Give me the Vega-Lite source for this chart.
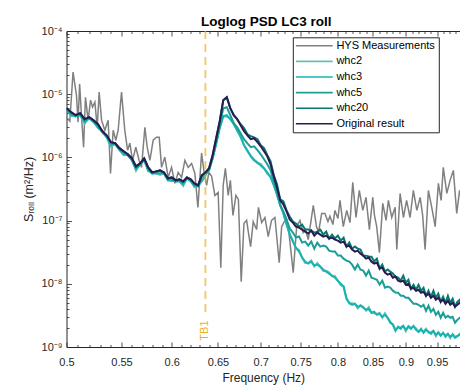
{
  "$schema": "https://vega.github.io/schema/vega-lite/v6.json",
  "width": 393.5,
  "height": 316,
  "autosize": {"type": "none"},
  "padding": {"left": 66.5, "top": 31, "right": 0, "bottom": 38},
  "background": "white",
  "config": {"view": {"stroke": null}, "font": "Liberation Sans"},
  "title": {"text": "Loglog PSD LC3 roll", "fontSize": 13.5, "fontWeight": "bold", "color": "#000000", "font": "Liberation Sans", "frame": "group", "anchor": "middle", "offset": 7, "baseline": "alphabetic", "dx": 3, "dy": 21},
  "datasets": {
    "hys": [
      {"f":0.5,"s":"HYS Measurements","v":4.33e-6},{"f":0.5029,"s":"HYS Measurements","v":3.74e-6},{"f":0.5057,"s":"HYS Measurements","v":2.24e-5},{"f":0.5087,"s":"HYS Measurements","v":9.64e-6},{"f":0.5101,"s":"HYS Measurements","v":3.61e-6},{"f":0.5115,"s":"HYS Measurements","v":1.45e-5},{"f":0.513,"s":"HYS Measurements","v":5.01e-6},{"f":0.515,"s":"HYS Measurements","v":1.45e-6},{"f":0.5167,"s":"HYS Measurements","v":8.96e-6},{"f":0.5191,"s":"HYS Measurements","v":3.88e-6},{"f":0.5213,"s":"HYS Measurements","v":8.04e-6},{"f":0.5231,"s":"HYS Measurements","v":6.23e-6},{"f":0.5252,"s":"HYS Measurements","v":7.47e-6},{"f":0.5273,"s":"HYS Measurements","v":3.0e-6},{"f":0.5291,"s":"HYS Measurements","v":1.08e-5},{"f":0.5313,"s":"HYS Measurements","v":3.88e-6},{"f":0.5343,"s":"HYS Measurements","v":2.69e-6},{"f":0.5374,"s":"HYS Measurements","v":3.88e-6},{"f":0.5396,"s":"HYS Measurements","v":5.58e-7},{"f":0.5421,"s":"HYS Measurements","v":2.69e-6},{"f":0.5446,"s":"HYS Measurements","v":1.87e-6},{"f":0.5468,"s":"HYS Measurements","v":2.69e-6},{"f":0.55,"s":"HYS Measurements","v":1.08e-5},{"f":0.5531,"s":"HYS Measurements","v":2.69e-6},{"f":0.5558,"s":"HYS Measurements","v":1.3e-6},{"f":0.558,"s":"HYS Measurements","v":1.68e-6},{"f":0.5606,"s":"HYS Measurements","v":8.96e-7},{"f":0.5638,"s":"HYS Measurements","v":1.45e-6},{"f":0.567,"s":"HYS Measurements","v":8.96e-7},{"f":0.5694,"s":"HYS Measurements","v":6.95e-7},{"f":0.5727,"s":"HYS Measurements","v":3.0e-6},{"f":0.575,"s":"HYS Measurements","v":1.45e-6},{"f":0.5777,"s":"HYS Measurements","v":8.96e-7},{"f":0.581,"s":"HYS Measurements","v":1.87e-6},{"f":0.5844,"s":"HYS Measurements","v":2.09e-6},{"f":0.5871,"s":"HYS Measurements","v":2.09e-6},{"f":0.5895,"s":"HYS Measurements","v":6.95e-7},{"f":0.5928,"s":"HYS Measurements","v":1.01e-6},{"f":0.5963,"s":"HYS Measurements","v":4.83e-7},{"f":0.5998,"s":"HYS Measurements","v":6.95e-7},{"f":0.6033,"s":"HYS Measurements","v":3.88e-7},{"f":0.6067,"s":"HYS Measurements","v":5.79e-7},{"f":0.6103,"s":"HYS Measurements","v":4.83e-7},{"f":0.6138,"s":"HYS Measurements","v":8.96e-7},{"f":0.6173,"s":"HYS Measurements","v":6.95e-7},{"f":0.621,"s":"HYS Measurements","v":8.04e-7},{"f":0.6245,"s":"HYS Measurements","v":5.58e-7},{"f":0.6278,"s":"HYS Measurements","v":1.62e-7},{"f":0.6318,"s":"HYS Measurements","v":1.17e-6},{"f":0.6343,"s":"HYS Measurements","v":6.23e-7},{"f":0.6373,"s":"HYS Measurements","v":3.61e-7},{"f":0.6399,"s":"HYS Measurements","v":5.79e-7},{"f":0.6429,"s":"HYS Measurements","v":5.01e-7},{"f":0.6465,"s":"HYS Measurements","v":2.5e-7},{"f":0.6502,"s":"HYS Measurements","v":2.79e-7},{"f":0.6532,"s":"HYS Measurements","v":1.8e-8},{"f":0.6559,"s":"HYS Measurements","v":3.61e-7},{"f":0.6584,"s":"HYS Measurements","v":6.7e-7},{"f":0.6616,"s":"HYS Measurements","v":2.5e-7},{"f":0.6641,"s":"HYS Measurements","v":4.33e-7},{"f":0.6671,"s":"HYS Measurements","v":1.21e-7},{"f":0.6705,"s":"HYS Measurements","v":2.5e-7},{"f":0.6734,"s":"HYS Measurements","v":2.16e-7},{"f":0.6767,"s":"HYS Measurements","v":1.08e-8},{"f":0.6799,"s":"HYS Measurements","v":8.96e-8},{"f":0.6831,"s":"HYS Measurements","v":1.01e-7},{"f":0.6852,"s":"HYS Measurements","v":6.46e-8},{"f":0.6878,"s":"HYS Measurements","v":3.88e-8},{"f":0.6909,"s":"HYS Measurements","v":9.64e-8},{"f":0.695,"s":"HYS Measurements","v":7.21e-8},{"f":0.6972,"s":"HYS Measurements","v":1.62e-7},{"f":0.7011,"s":"HYS Measurements","v":9.3e-8},{"f":0.7051,"s":"HYS Measurements","v":1.12e-7},{"f":0.7091,"s":"HYS Measurements","v":5.58e-8},{"f":0.7132,"s":"HYS Measurements","v":1.01e-7},{"f":0.7174,"s":"HYS Measurements","v":1.12e-7},{"f":0.7227,"s":"HYS Measurements","v":2.16e-8},{"f":0.7258,"s":"HYS Measurements","v":8.04e-8},{"f":0.7299,"s":"HYS Measurements","v":1.01e-7},{"f":0.7342,"s":"HYS Measurements","v":8.04e-8},{"f":0.7405,"s":"HYS Measurements","v":1.5e-8},{"f":0.7449,"s":"HYS Measurements","v":8.04e-8},{"f":0.7492,"s":"HYS Measurements","v":1.0e-7},{"f":0.7534,"s":"HYS Measurements","v":6.46e-8},{"f":0.7564,"s":"HYS Measurements","v":7.21e-8},{"f":0.76,"s":"HYS Measurements","v":5.01e-8},{"f":0.7667,"s":"HYS Measurements","v":1.74e-7},{"f":0.7709,"s":"HYS Measurements","v":8.04e-8},{"f":0.7736,"s":"HYS Measurements","v":6.46e-8},{"f":0.7779,"s":"HYS Measurements","v":1.3e-7},{"f":0.7823,"s":"HYS Measurements","v":1.3e-7},{"f":0.7864,"s":"HYS Measurements","v":9.64e-8},{"f":0.7891,"s":"HYS Measurements","v":1.17e-7},{"f":0.7932,"s":"HYS Measurements","v":8.64e-8},{"f":0.796,"s":"HYS Measurements","v":1.45e-7},{"f":0.8001,"s":"HYS Measurements","v":1.08e-7},{"f":0.803,"s":"HYS Measurements","v":2.09e-7},{"f":0.8076,"s":"HYS Measurements","v":8.04e-8},{"f":0.8124,"s":"HYS Measurements","v":1.45e-7},{"f":0.817,"s":"HYS Measurements","v":9.3e-8},{"f":0.8209,"s":"HYS Measurements","v":4.02e-7},{"f":0.8256,"s":"HYS Measurements","v":1.12e-7},{"f":0.8303,"s":"HYS Measurements","v":3.0e-7},{"f":0.8353,"s":"HYS Measurements","v":1.45e-7},{"f":0.84,"s":"HYS Measurements","v":2.33e-7},{"f":0.8449,"s":"HYS Measurements","v":7.21e-8},{"f":0.8499,"s":"HYS Measurements","v":2.33e-7},{"f":0.8524,"s":"HYS Measurements","v":1.21e-7},{"f":0.8557,"s":"HYS Measurements","v":8.04e-8},{"f":0.8597,"s":"HYS Measurements","v":3.12e-8},{"f":0.8647,"s":"HYS Measurements","v":1.87e-7},{"f":0.8697,"s":"HYS Measurements","v":1.01e-7},{"f":0.8732,"s":"HYS Measurements","v":2.09e-7},{"f":0.8783,"s":"HYS Measurements","v":1.12e-7},{"f":0.8834,"s":"HYS Measurements","v":1.62e-7},{"f":0.886,"s":"HYS Measurements","v":3.48e-8},{"f":0.8911,"s":"HYS Measurements","v":2.69e-7},{"f":0.8962,"s":"HYS Measurements","v":1.12e-7},{"f":0.9012,"s":"HYS Measurements","v":2.09e-7},{"f":0.9066,"s":"HYS Measurements","v":1.12e-7},{"f":0.9118,"s":"HYS Measurements","v":3.0e-7},{"f":0.9173,"s":"HYS Measurements","v":1.45e-7},{"f":0.9226,"s":"HYS Measurements","v":2.33e-7},{"f":0.9266,"s":"HYS Measurements","v":1.21e-7},{"f":0.9305,"s":"HYS Measurements","v":3.48e-8},{"f":0.9358,"s":"HYS Measurements","v":3.0e-7},{"f":0.9413,"s":"HYS Measurements","v":1.62e-7},{"f":0.9469,"s":"HYS Measurements","v":8.04e-8},{"f":0.9522,"s":"HYS Measurements","v":3.88e-7},{"f":0.9567,"s":"HYS Measurements","v":2.09e-7},{"f":0.9603,"s":"HYS Measurements","v":6.95e-7},{"f":0.9662,"s":"HYS Measurements","v":2.69e-7},{"f":0.9717,"s":"HYS Measurements","v":4.33e-7},{"f":0.9772,"s":"HYS Measurements","v":6.23e-7},{"f":0.9829,"s":"HYS Measurements","v":1.3e-7},{"f":0.9878,"s":"HYS Measurements","v":3.0e-7},{"f":0.992,"s":"HYS Measurements","v":2.09e-7}
    ],
    "models": [
      {"f":0.500,"whc2":5.81e-6,"whc3":5.59e-6,"whc5":5.79e-6,"whc20":6.01e-6,"Original result":6.01e-6},
      {"f":0.504,"whc2":4.51e-6,"whc3":4.65e-6,"whc5":5.00e-6,"whc20":5.19e-6,"Original result":5.19e-6},
      {"f":0.508,"whc2":4.75e-6,"whc3":4.48e-6,"whc5":4.48e-6,"whc20":4.65e-6,"Original result":4.65e-6},
      {"f":0.512,"whc2":4.66e-6,"whc3":4.66e-6,"whc5":4.83e-6,"whc20":5.01e-6,"Original result":5.01e-6},
      {"f":0.516,"whc2":3.42e-6,"whc3":3.60e-6,"whc5":3.88e-6,"whc20":4.02e-6,"Original result":4.02e-6},
      {"f":0.520,"whc2":4.30e-6,"whc3":4.17e-6,"whc5":4.17e-6,"whc20":4.33e-6,"Original result":4.33e-6},
      {"f":0.524,"whc2":3.75e-6,"whc3":3.61e-6,"whc5":3.74e-6,"whc20":3.88e-6,"Original result":3.88e-6},
      {"f":0.528,"whc2":2.91e-6,"whc3":3.00e-6,"whc5":3.23e-6,"whc20":3.35e-6,"Original result":3.35e-6},
      {"f":0.532,"whc2":2.66e-6,"whc3":2.51e-6,"whc5":2.51e-6,"whc20":2.60e-6,"Original result":2.60e-6},
      {"f":0.536,"whc2":2.08e-6,"whc3":2.08e-6,"whc5":2.16e-6,"whc20":2.24e-6,"Original result":2.24e-6},
      {"f":0.540,"whc2":1.48e-6,"whc3":1.56e-6,"whc5":1.68e-6,"whc20":1.74e-6,"Original result":1.74e-6},
      {"f":0.544,"whc2":1.67e-6,"whc3":1.62e-6,"whc5":1.62e-6,"whc20":1.68e-6,"Original result":1.68e-6},
      {"f":0.548,"whc2":1.35e-6,"whc3":1.30e-6,"whc5":1.35e-6,"whc20":1.40e-6,"Original result":1.40e-6},
      {"f":0.552,"whc2":1.09e-6,"whc3":1.12e-6,"whc5":1.21e-6,"whc20":1.25e-6,"Original result":1.25e-6},
      {"f":0.556,"whc2":1.14e-6,"whc3":1.08e-6,"whc5":1.08e-6,"whc20":1.12e-6,"Original result":1.12e-6},
      {"f":0.560,"whc2":8.97e-7,"whc3":8.97e-7,"whc5":9.29e-7,"whc20":9.64e-7,"Original result":9.64e-7},
      {"f":0.564,"whc2":6.14e-7,"whc3":6.46e-7,"whc5":6.95e-7,"whc20":7.21e-7,"Original result":7.21e-7},
      {"f":0.568,"whc2":7.98e-7,"whc3":7.75e-7,"whc5":7.75e-7,"whc20":8.04e-7,"Original result":8.04e-7},
      {"f":0.572,"whc2":9.33e-7,"whc3":8.97e-7,"whc5":9.29e-7,"whc20":9.64e-7,"Original result":9.64e-7},
      {"f":0.576,"whc2":6.04e-7,"whc3":6.23e-7,"whc5":6.70e-7,"whc20":6.95e-7,"Original result":6.95e-7},
      {"f":0.580,"whc2":5.91e-7,"whc3":5.58e-7,"whc5":5.58e-7,"whc20":5.79e-7,"Original result":5.79e-7},
      {"f":0.584,"whc2":5.59e-7,"whc3":5.59e-7,"whc5":5.79e-7,"whc20":6.01e-7,"Original result":6.01e-7},
      {"f":0.588,"whc2":5.30e-7,"whc3":5.58e-7,"whc5":6.01e-7,"whc20":6.23e-7,"Original result":6.23e-7},
      {"f":0.592,"whc2":5.75e-7,"whc3":5.58e-7,"whc5":5.58e-7,"whc20":5.79e-7,"Original result":5.79e-7},
      {"f":0.596,"whc2":4.49e-7,"whc3":4.32e-7,"whc5":4.48e-7,"whc20":4.65e-7,"Original result":4.65e-7},
      {"f":0.600,"whc2":4.20e-7,"whc3":4.33e-7,"whc5":4.66e-7,"whc20":4.83e-7,"Original result":4.83e-7},
      {"f":0.604,"whc2":4.42e-7,"whc3":4.17e-7,"whc5":4.17e-7,"whc20":4.33e-7,"Original result":4.33e-7},
      {"f":0.608,"whc2":4.18e-7,"whc3":4.18e-7,"whc5":4.33e-7,"whc20":4.49e-7,"Original result":4.49e-7},
      {"f":0.612,"whc2":3.55e-7,"whc3":3.74e-7,"whc5":4.02e-7,"whc20":4.17e-7,"Original result":4.17e-7},
      {"f":0.616,"whc2":4.80e-7,"whc3":4.66e-7,"whc5":4.66e-7,"whc20":4.83e-7,"Original result":4.83e-7},
      {"f":0.620,"whc2":4.35e-7,"whc3":4.18e-7,"whc5":4.33e-7,"whc20":4.49e-7,"Original result":4.49e-7},
      {"f":0.624,"whc2":3.38e-7,"whc3":3.48e-7,"whc5":3.74e-7,"whc20":3.88e-7,"Original result":3.88e-7},
      {"f":0.628,"whc2":3.69e-7,"whc3":3.48e-7,"whc5":3.48e-7,"whc20":3.61e-7,"Original result":3.61e-7},
      {"f":0.632,"whc2":4.20e-7,"whc3":4.20e-7,"whc5":5.00e-7,"whc20":5.19e-7,"Original result":5.19e-7},
      {"f":0.636,"whc2":5.11e-7,"whc3":5.38e-7,"whc5":5.58e-7,"whc20":5.79e-7,"Original result":5.79e-7},
      {"f":0.640,"whc2":6.42e-7,"whc3":6.23e-7,"whc5":6.46e-7,"whc20":6.70e-7,"Original result":6.70e-7},
      {"f":0.644,"whc2":1.00e-6,"whc3":9.64e-7,"whc5":9.68e-7,"whc20":1.08e-6,"Original result":1.08e-6},
      {"f":0.648,"whc2":1.63e-6,"whc3":1.68e-6,"whc5":1.74e-6,"whc20":2.01e-6,"Original result":2.01e-6},
      {"f":0.652,"whc2":3.07e-6,"whc3":2.90e-6,"whc5":3.12e-6,"whc20":3.74e-6,"Original result":3.74e-6},
      {"f":0.656,"whc2":4.49e-6,"whc3":4.49e-6,"whc5":6.01e-6,"whc20":8.04e-6,"Original result":8.04e-6},
      {"f":0.660,"whc2":4.42e-6,"whc3":4.65e-6,"whc5":6.23e-6,"whc20":8.96e-6,"Original result":8.96e-6},
      {"f":0.664,"whc2":4.14e-6,"whc3":4.02e-6,"whc5":4.66e-6,"whc20":6.01e-6,"Original result":6.01e-6},
      {"f":0.668,"whc2":3.48e-6,"whc3":3.35e-6,"whc5":3.47e-6,"whc20":4.65e-6,"Original result":4.65e-6},
      {"f":0.672,"whc2":2.61e-6,"whc3":2.69e-6,"whc5":3.00e-6,"whc20":4.02e-6,"Original result":4.02e-6},
      {"f":0.676,"whc2":2.22e-6,"whc3":2.09e-6,"whc5":2.41e-6,"whc20":3.35e-6,"Original result":3.23e-6},
      {"f":0.680,"whc2":1.56e-6,"whc3":1.56e-6,"whc5":1.94e-6,"whc20":2.90e-6,"Original result":2.60e-6},
      {"f":0.684,"whc2":1.24e-6,"whc3":1.30e-6,"whc5":1.67e-6,"whc20":2.32e-6,"Original result":2.24e-6},
      {"f":0.688,"whc2":1.07e-6,"whc3":1.04e-6,"whc5":1.45e-6,"whc20":2.17e-6,"Original result":1.94e-6},
      {"f":0.692,"whc2":9.32e-7,"whc3":8.96e-7,"whc5":1.50e-6,"whc20":2.08e-6,"Original result":2.01e-6},
      {"f":0.696,"whc2":8.09e-7,"whc3":8.34e-7,"whc5":1.30e-6,"whc20":1.94e-6,"Original result":1.74e-6},
      {"f":0.700,"whc2":7.92e-7,"whc3":7.47e-7,"whc5":1.12e-6,"whc20":1.56e-6,"Original result":1.50e-6},
      {"f":0.704,"whc2":6.70e-7,"whc3":6.70e-7,"whc5":9.34e-7,"whc20":1.40e-6,"Original result":1.25e-6},
      {"f":0.708,"whc2":5.50e-7,"whc3":5.79e-7,"whc5":7.77e-7,"whc20":1.08e-6,"Original result":1.04e-6},
      {"f":0.712,"whc2":4.97e-7,"whc3":4.83e-7,"whc5":6.23e-7,"whc20":8.65e-7,"Original result":7.75e-7},
      {"f":0.716,"whc2":3.75e-7,"whc3":3.61e-7,"whc5":4.18e-7,"whc20":5.20e-7,"Original result":5.01e-7},
      {"f":0.720,"whc2":2.52e-7,"whc3":2.60e-7,"whc5":2.79e-7,"whc20":3.74e-7,"Original result":3.35e-7},
      {"f":0.724,"whc2":1.84e-7,"whc3":1.74e-7,"whc5":1.74e-7,"whc20":2.17e-7,"Original result":2.09e-7},
      {"f":0.728,"whc2":1.30e-7,"whc3":1.30e-7,"whc5":1.40e-7,"whc20":2.01e-7,"Original result":1.80e-7},
      {"f":0.732,"whc2":8.51e-8,"whc3":8.96e-8,"whc5":1.05e-7,"whc20":1.45e-7,"Original result":1.40e-7},
      {"f":0.736,"whc2":6.19e-8,"whc3":6.01e-8,"whc5":7.50e-8,"whc20":1.16e-7,"Original result":1.04e-7},
      {"f":0.740,"whc2":4.84e-8,"whc3":4.65e-8,"whc5":6.46e-8,"whc20":9.64e-8,"Original result":9.30e-8},
      {"f":0.744,"whc2":3.63e-8,"whc3":3.74e-8,"whc5":5.39e-8,"whc20":8.97e-8,"Original result":8.04e-8},
      {"f":0.748,"whc2":3.42e-8,"whc3":3.23e-8,"whc5":5.59e-8,"whc20":8.04e-8,"Original result":7.75e-8},
      {"f":0.752,"whc2":2.60e-8,"whc3":2.60e-8,"whc5":4.49e-8,"whc20":8.65e-8,"Original result":7.21e-8},
      {"f":0.756,"whc2":2.13e-8,"whc3":2.24e-8,"whc5":4.66e-8,"whc20":7.20e-8,"Original result":6.70e-8},
      {"f":0.760,"whc2":2.15e-8,"whc3":2.09e-8,"whc5":4.02e-8,"whc20":7.21e-8,"Original result":6.23e-8},
      {"f":0.764,"whc2":2.33e-8,"whc3":2.24e-8,"whc5":4.66e-8,"whc20":6.95e-8,"Original result":6.95e-8},
      {"f":0.768,"whc2":1.88e-8,"whc3":1.94e-8,"whc5":3.61e-8,"whc20":6.46e-8,"Original result":5.79e-8},
      {"f":0.772,"whc2":2.13e-8,"whc3":2.01e-8,"whc5":4.49e-8,"whc20":6.70e-8,"Original result":6.46e-8},
      {"f":0.776,"whc2":1.87e-8,"whc3":1.87e-8,"whc5":3.88e-8,"whc20":7.21e-8,"Original result":6.01e-8},
      {"f":0.780,"whc2":1.60e-8,"whc3":1.68e-8,"whc5":4.02e-8,"whc20":6.00e-8,"Original result":5.58e-8},
      {"f":0.784,"whc2":1.61e-8,"whc3":1.56e-8,"whc5":3.88e-8,"whc20":6.70e-8,"Original result":5.79e-8},
      {"f":0.788,"whc2":1.51e-8,"whc3":1.45e-8,"whc5":3.35e-8,"whc20":5.19e-8,"Original result":5.19e-8},
      {"f":0.792,"whc2":1.31e-8,"whc3":1.35e-8,"whc5":3.23e-8,"whc20":6.00e-8,"Original result":5.38e-8},
      {"f":0.796,"whc2":1.33e-8,"whc3":1.25e-8,"whc5":3.24e-8,"whc20":5.20e-8,"Original result":5.01e-8},
      {"f":0.800,"whc2":1.12e-8,"whc3":1.12e-8,"whc5":2.80e-8,"whc20":5.80e-8,"Original result":4.83e-8},
      {"f":0.804,"whc2":9.50e-9,"whc3":1.00e-8,"whc5":2.80e-8,"whc20":4.83e-8,"Original result":4.49e-8},
      {"f":0.808,"whc2":9.23e-9,"whc3":8.96e-9,"whc5":2.50e-8,"whc20":5.38e-8,"Original result":4.65e-8},
      {"f":0.812,"whc2":6.02e-9,"whc3":5.79e-9,"whc5":2.33e-8,"whc20":3.88e-8,"Original result":3.88e-8},
      {"f":0.816,"whc2":4.86e-9,"whc3":5.01e-9,"whc5":2.24e-8,"whc20":4.49e-8,"Original result":4.02e-8},
      {"f":0.820,"whc2":4.93e-9,"whc3":4.65e-9,"whc5":2.01e-8,"whc20":3.61e-8,"Original result":3.48e-8},
      {"f":0.824,"whc2":4.83e-9,"whc3":4.83e-9,"whc5":1.68e-8,"whc20":3.88e-8,"Original result":3.23e-8},
      {"f":0.828,"whc2":4.11e-9,"whc3":4.33e-9,"whc5":2.01e-8,"whc20":3.60e-8,"Original result":3.35e-8},
      {"f":0.832,"whc2":4.62e-9,"whc3":4.49e-9,"whc5":1.67e-8,"whc20":3.47e-8,"Original result":3.00e-8},
      {"f":0.836,"whc2":4.34e-9,"whc3":4.17e-9,"whc5":1.62e-8,"whc20":2.79e-8,"Original result":2.79e-8},
      {"f":0.840,"whc2":3.76e-9,"whc3":3.88e-9,"whc5":1.35e-8,"whc20":2.79e-8,"Original result":2.50e-8},
      {"f":0.844,"whc2":4.26e-9,"whc3":4.02e-9,"whc5":1.62e-8,"whc20":2.70e-8,"Original result":2.60e-8},
      {"f":0.848,"whc2":3.48e-9,"whc3":3.48e-9,"whc5":1.25e-8,"whc20":2.69e-8,"Original result":2.24e-8},
      {"f":0.852,"whc2":3.43e-9,"whc3":3.61e-9,"whc5":1.21e-8,"whc20":2.25e-8,"Original result":2.09e-8},
      {"f":0.856,"whc2":3.33e-9,"whc3":3.23e-9,"whc5":1.16e-8,"whc20":2.50e-8,"Original result":2.16e-8},
      {"f":0.860,"whc2":3.48e-9,"whc3":3.35e-9,"whc5":9.71e-9,"whc20":1.74e-8,"Original result":1.74e-8},
      {"f":0.864,"whc2":2.91e-9,"whc3":3.00e-9,"whc5":1.12e-8,"whc20":2.01e-8,"Original result":1.80e-8},
      {"f":0.868,"whc2":3.42e-9,"whc3":3.23e-9,"whc5":8.69e-9,"whc20":1.56e-8,"Original result":1.50e-8},
      {"f":0.872,"whc2":2.90e-9,"whc3":2.90e-9,"whc5":9.04e-9,"whc20":1.68e-8,"Original result":1.40e-8},
      {"f":0.876,"whc2":2.38e-9,"whc3":2.50e-9,"whc5":8.71e-9,"whc20":1.56e-8,"Original result":1.45e-8},
      {"f":0.880,"whc2":2.31e-9,"whc3":2.24e-9,"whc5":7.79e-9,"whc20":1.45e-8,"Original result":1.25e-8},
      {"f":0.884,"whc2":1.87e-9,"whc3":1.80e-9,"whc5":7.25e-9,"whc20":1.30e-8,"Original result":1.30e-8},
      {"f":0.888,"whc2":2.03e-9,"whc3":2.09e-9,"whc5":7.24e-9,"whc20":1.25e-8,"Original result":1.12e-8},
      {"f":0.892,"whc2":2.06e-9,"whc3":1.94e-9,"whc5":6.49e-9,"whc20":1.12e-8,"Original result":1.08e-8},
      {"f":0.896,"whc2":2.16e-9,"whc3":2.16e-9,"whc5":6.48e-9,"whc20":1.34e-8,"Original result":1.12e-8},
      {"f":0.900,"whc2":1.78e-9,"whc3":1.87e-9,"whc5":6.01e-9,"whc20":1.04e-8,"Original result":9.64e-9},
      {"f":0.904,"whc2":2.15e-9,"whc3":2.09e-9,"whc5":6.01e-9,"whc20":1.16e-8,"Original result":1.00e-8},
      {"f":0.908,"whc2":2.02e-9,"whc3":1.94e-9,"whc5":5.39e-9,"whc20":8.34e-9,"Original result":8.34e-9},
      {"f":0.912,"whc2":2.10e-9,"whc3":2.16e-9,"whc5":4.82e-9,"whc20":9.64e-9,"Original result":8.64e-9},
      {"f":0.916,"whc2":1.98e-9,"whc3":1.87e-9,"whc5":4.83e-9,"whc20":8.04e-9,"Original result":7.75e-9},
      {"f":0.920,"whc2":1.74e-9,"whc3":1.74e-9,"whc5":4.66e-9,"whc20":9.65e-9,"Original result":8.04e-9},
      {"f":0.924,"whc2":1.84e-9,"whc3":1.94e-9,"whc5":4.33e-9,"whc20":7.75e-9,"Original result":7.21e-9},
      {"f":0.928,"whc2":1.73e-9,"whc3":1.68e-9,"whc5":4.65e-9,"whc20":8.64e-9,"Original result":7.47e-9},
      {"f":0.932,"whc2":1.94e-9,"whc3":1.87e-9,"whc5":3.74e-9,"whc20":6.46e-9,"Original result":6.46e-9},
      {"f":0.936,"whc2":1.69e-9,"whc3":1.74e-9,"whc5":4.49e-9,"whc20":7.76e-9,"Original result":6.95e-9},
      {"f":0.940,"whc2":1.72e-9,"whc3":1.62e-9,"whc5":3.61e-9,"whc20":6.23e-9,"Original result":6.01e-9},
      {"f":0.944,"whc2":1.80e-9,"whc3":1.80e-9,"whc5":4.02e-9,"whc20":7.75e-9,"Original result":6.46e-9},
      {"f":0.948,"whc2":1.48e-9,"whc3":1.56e-9,"whc5":3.23e-9,"whc20":6.00e-9,"Original result":5.58e-9},
      {"f":0.952,"whc2":1.73e-9,"whc3":1.68e-9,"whc5":3.61e-9,"whc20":6.95e-9,"Original result":6.01e-9},
      {"f":0.956,"whc2":1.56e-9,"whc3":1.50e-9,"whc5":2.90e-9,"whc20":5.19e-9,"Original result":5.19e-9},
      {"f":0.960,"whc2":1.63e-9,"whc3":1.68e-9,"whc5":3.48e-9,"whc20":6.23e-9,"Original result":5.58e-9},
      {"f":0.964,"whc2":1.54e-9,"whc3":1.45e-9,"whc5":2.90e-9,"whc20":5.01e-9,"Original result":4.83e-9},
      {"f":0.968,"whc2":1.62e-9,"whc3":1.62e-9,"whc5":3.12e-9,"whc20":6.46e-9,"Original result":5.38e-9},
      {"f":0.972,"whc2":1.38e-9,"whc3":1.45e-9,"whc5":2.90e-9,"whc20":5.00e-9,"Original result":4.65e-9},
      {"f":0.976,"whc2":1.61e-9,"whc3":1.56e-9,"whc5":3.01e-9,"whc20":5.80e-9,"Original result":5.01e-9},
      {"f":0.980,"whc2":1.46e-9,"whc3":1.40e-9,"whc5":2.42e-9,"whc20":4.33e-9,"Original result":4.33e-9},
      {"f":0.984,"whc2":1.46e-9,"whc3":1.50e-9,"whc5":2.69e-9,"whc20":5.19e-9,"Original result":4.65e-9},
      {"f":0.988,"whc2":1.62e-9,"whc3":1.56e-9,"whc5":2.90e-9,"whc20":5.58e-9,"Original result":5.01e-9},
      {"f":0.992,"whc2":1.40e-9,"whc3":1.45e-9,"whc5":2.69e-9,"whc20":4.83e-9,"Original result":4.49e-9}
    ],
    "marker": [{"f":0.636,"name":"TB1"}]
  },
  "resolve": {"axis": {"x": "independent", "y": "independent"}},
  "layer": [
    {
      "data": {"name": "hys"},
      "mark": {"type": "line", "strokeWidth": 1.5, "clip": true},
      "encoding": {
        "x": {"field": "f", "type": "quantitative",
          "scale": {"type": "log", "domain": [0.5, 0.9885], "nice": false, "zero": false},
          "axis": {"orient": "bottom", "grid": false,
            "values": [0.5,0.51,0.52,0.53,0.54,0.55,0.56,0.57,0.58,0.59,0.6,0.61,0.62,0.63,0.64,0.65,0.66,0.67,0.68,0.69,0.7,0.71,0.72,0.73,0.74,0.75,0.76,0.77,0.78,0.79,0.8,0.81,0.82,0.83,0.84,0.85,0.86,0.87,0.88,0.89,0.9,0.91,0.92,0.93,0.94,0.95,0.96,0.97,0.98],
            "labelExpr": "abs(datum.value*20 - round(datum.value*20)) < 0.001 ? format(datum.value, '.2~f') : ''",
            "labelFlush": false, "labelOverlap": false, "labelBound": false,
            "labelFont": "Liberation Sans", "labelFontSize": 11, "labelColor": "#262626", "labelPadding": 14,
            "tickSize": {"condition": {"test": "abs(datum.value*20 - round(datum.value*20)) < 0.001", "value": -5}, "value": -2.5},
            "tickColor": "#262626", "tickWidth": 0.8, "domainColor": "#262626", "domainWidth": 1,
            "title": "Frequency (Hz)", "titleFont": "Liberation Sans", "titleFontSize": 12, "titleFontWeight": "normal", "titleColor": "#262626", "titlePadding": 3}},
        "y": {"field": "v", "type": "quantitative",
          "scale": {"type": "log", "domain": [1e-9, 1e-4], "nice": false, "zero": false},
          "axis": {"orient": "left", "grid": false,
            "values": [1e-9,2e-9,3e-9,4e-9,5e-9,6e-9,7e-9,8e-9,9e-9,1e-8,2e-8,3e-8,4e-8,5e-8,6e-8,7e-8,8e-8,9e-8,1e-7,2e-7,3e-7,4e-7,5e-7,6e-7,7e-7,8e-7,9e-7,1e-6,2e-6,3e-6,4e-6,5e-6,6e-6,7e-6,8e-6,9e-6,1e-5,2e-5,3e-5,4e-5,5e-5,6e-5,7e-5,8e-5,9e-5,1e-4],
            "labelExpr": "abs(log(datum.value)/LN10 - round(log(datum.value)/LN10)) > 0.01 ? '' : (round(log(datum.value)/LN10) == -4 ? '10⁻⁴' : round(log(datum.value)/LN10) == -5 ? '10⁻⁵' : round(log(datum.value)/LN10) == -6 ? '10⁻⁶' : round(log(datum.value)/LN10) == -7 ? '10⁻⁷' : round(log(datum.value)/LN10) == -8 ? '10⁻⁸' : '10⁻⁹')",
            "labelOverlap": false, "labelBound": false, "labelFlush": false,
            "labelFont": "Liberation Sans", "labelFontSize": 11, "labelColor": "#262626", "labelPadding": 9.5,
            "tickSize": {"condition": {"test": "abs(log(datum.value)/LN10 - round(log(datum.value)/LN10)) < 0.01", "value": -5}, "value": -2.5},
            "tickColor": "#262626", "tickWidth": 0.8, "domainColor": "#262626", "domainWidth": 1,
            "title": "Sᵣₒₗₗ (m²/Hz)", "titleFont": "Liberation Sans", "titleFontSize": 12.5, "titleFontWeight": "normal", "titleColor": "#262626", "titlePadding": 6}},
        "color": {"field": "s", "type": "nominal",
          "scale": {"domain": ["HYS Measurements", "whc2", "whc3", "whc5", "whc20", "Original result"],
                    "range": ["#808080", "#6cbdb4", "#17b4b4", "#1a9e96", "#08776d", "#2b1a52"]},
          "legend": {"orient": "none", "legendX": 226.3, "legendY": 6.3, "title": null, "padding": 3,
            "strokeColor": "#262626", "fillColor": "#ffffff",
            "symbolType": "M-4,0H4", "symbolSize": 85, "symbolStrokeWidth": 1.6, "symbolOffset": 13,
            "labelOffset": 16.6, "rowPadding": 3.6, "labelFontSize": 11, "labelFont": "Liberation Sans", "labelColor": "#000000", "labelLimit": 200}}
      }
    },
    {
      "data": {"name": "models"},
      "transform": [{"fold": ["whc2", "whc3", "whc5", "whc20", "Original result"], "as": ["s", "v"]}],
      "mark": {"type": "line", "strokeWidth": 2, "clip": true},
      "encoding": {
        "x": {"field": "f", "type": "quantitative", "axis": null},
        "y": {"field": "v", "type": "quantitative", "axis": null},
        "color": {"field": "s", "type": "nominal"}
      }
    },
    {
      "data": {"name": "marker"},
      "mark": {"type": "rule", "color": "#EDB120", "opacity": 0.7, "strokeDash": [8, 5], "strokeWidth": 1.8},
      "encoding": {
        "x": {"field": "f", "type": "quantitative",
          "axis": {"orient": "top", "grid": false, "labels": false, "title": null,
            "values": [0.5,0.51,0.52,0.53,0.54,0.55,0.56,0.57,0.58,0.59,0.6,0.61,0.62,0.63,0.64,0.65,0.66,0.67,0.68,0.69,0.7,0.71,0.72,0.73,0.74,0.75,0.76,0.77,0.78,0.79,0.8,0.81,0.82,0.83,0.84,0.85,0.86,0.87,0.88,0.89,0.9,0.91,0.92,0.93,0.94,0.95,0.96,0.97,0.98],
            "tickSize": {"condition": {"test": "abs(datum.value*20 - round(datum.value*20)) < 0.001", "value": -5}, "value": -2.5},
            "tickColor": "#262626", "tickWidth": 0.8, "domainColor": "#262626", "domainWidth": 1}},
        "y": {"datum": 1e-4, "type": "quantitative", "axis": null},
        "y2": {"datum": 3.0e-9}
      }
    },
    {
      "data": {"name": "marker"},
      "mark": {"type": "text", "angle": 270, "color": "#EDB120", "fontSize": 11, "font": "Liberation Sans", "align": "center", "baseline": "middle"},
      "encoding": {
        "x": {"field": "f", "type": "quantitative", "axis": null},
        "y": {"datum": 1.82e-9, "type": "quantitative", "axis": null},
        "text": {"field": "name"}
      }
    }
  ]
}
